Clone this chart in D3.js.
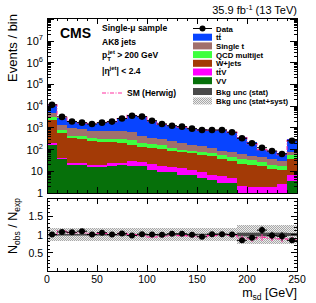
<!DOCTYPE html>
<html>
<head>
<meta charset="utf-8">
<script src="https://cdn.jsdelivr.net/npm/d3@7"></script>
<style>
  body { margin: 0; background: #fff; }
  svg { display: block; font-family: "Liberation Sans", Arial, sans-serif; }
</style>
</head>
<body>
<div id="chart"></div>
<script>
// bins of m_sd (GeV)
const binLow = [0, 10, 20, 30, 40, 50, 60, 70, 80, 90, 100, 110, 120, 130, 140, 150, 160, 170, 180, 190, 200, 210, 220, 230, 240];
const binWidth = 10;

// observed events per bin
const dataCounts = [11500, 3200, 1970, 1740, 1510, 1740, 1940, 2700, 3640, 3300, 2140, 1510, 1260, 1140, 920, 800, 800, 800, 630, 330, 195, 122, 86, 63, 256];

// backgrounds (stack order: bottom -> top)
const vv     = [163, 36, 19.5, 19, 16, 16, 18, 19, 18, 17, 12, 9.5, 9, 7, 6.5, 4.8, 4, 3, 3, 0.6, 0.6, 0.5, 0.5, 0.5, 3.5];
const ttv    = [32, 6, 3.5, 4, 3.5, 3.5, 5, 6, 12, 11, 9, 7.5, 6.5, 7, 5.5, 4.2, 3, 3, 2, 1.6, 1.2, 1.3, 1.3, 2.0, 3.5];
const wjets  = [2105, 523, 307, 287, 220, 210, 197, 175, 140, 107, 93, 88, 74, 66, 55, 49, 45, 32, 25, 20, 18, 16, 11, 9.5, 28];
const qcd    = [1000, 235, 110, 110, 90, 90, 90, 100, 100, 65, 76, 55, 35, 20, 23, 22, 18, 18, 15, 14, 12, 10, 7, 5, 20];
const singleT = [1400, 560, 510, 480, 390, 400, 410, 400, 350, 220, 150, 160, 125, 100, 80, 60, 50, 29, 30, 24, 20, 20, 16, 13, 25];
const ttbar  = [6800, 1640, 910, 700, 790, 940, 1200, 1920, 3130, 2850, 1800, 1210, 990, 920, 760, 710, 670, 705, 555, 330, 162, 61, 53, 36, 225];

// SM prediction with Herwig
const herwig = [11500, 3300, 1950, 1680, 1540, 1710, 1920, 2700, 3750, 3170, 1990, 1450, 1215, 1086, 884, 790, 766, 790, 617, 351, 188, 100, 80, 58, 265];

// ratio panel values
const ratioObs = [1.0, 1.07, 1.06, 1.09, 1.0, 1.05, 1.0, 1.03, 0.97, 1.01, 1.0, 0.99, 1.02, 1.02, 0.99, 0.94, 1.01, 1.01, 1.0, 0.84, 0.91, 1.12, 0.97, 0.95, 0.84];
const ratioHerwig = [1.0, 1.1, 1.05, 1.05, 1.02, 1.03, 1.0, 1.03, 1.0, 0.97, 0.93, 0.95, 0.98, 0.97, 0.95, 0.93, 0.97, 1.0, 0.98, 0.9, 0.88, 0.92, 0.9, 0.88, 0.87];
const ratioHerwigErr = [0.01, 0.03, 0.02, 0.02, 0.02, 0.02, 0.02, 0.02, 0.02, 0.02, 0.03, 0.03, 0.03, 0.03, 0.04, 0.04, 0.04, 0.04, 0.05, 0.07, 0.08, 0.09, 0.08, 0.09, 0.07];
const uncStat = [0.01, 0.015, 0.015, 0.015, 0.015, 0.015, 0.015, 0.015, 0.015, 0.015, 0.015, 0.02, 0.02, 0.02, 0.02, 0.02, 0.02, 0.02, 0.02, 0.05, 0.05, 0.05, 0.05, 0.05, 0.04];
const uncTotal = [0.17, 0.17, 0.17, 0.17, 0.17, 0.17, 0.17, 0.17, 0.17, 0.17, 0.18, 0.18, 0.18, 0.18, 0.18, 0.18, 0.18, 0.18, 0.18, 0.25, 0.25, 0.25, 0.25, 0.25, 0.25];

const xTicks = [0, 50, 100, 150, 200, 250];
const ratioTicks = [0.5, 1, 1.5];
const logTicks = [1, 10, 100, 1e3, 1e4, 1e5, 1e6, 1e7];

const series = [
  { key: 'vv', label: 'VV', color: '#06700a', values: vv },
  { key: 'ttv', label: 'ttV', color: '#ff00ff', values: ttv },
  { key: 'wjets', label: 'W+jets', color: '#a33a06', values: wjets },
  { key: 'qcd', label: 'QCD multijet', color: '#3dff3d', values: qcd },
  { key: 'st', label: 'Single t', color: '#a1706c', values: singleT },
  { key: 'tt', label: 'tt', color: '#0844ff', values: ttbar }
];

const W = 316, H = 303;
const left = 47, right = 297;
const top1 = 18, bot1 = 193;
const top2 = 198, bot2 = 271;

const svg = d3.select('#chart').append('svg')
  .attr('width', W).attr('height', H);

const defs = svg.append('defs');
const pat = defs.append('pattern').attr('id', 'hatch')
  .attr('patternUnits', 'userSpaceOnUse').attr('width', 2).attr('height', 2);
pat.append('rect').attr('width', 2).attr('height', 2).attr('fill', '#ececec');
pat.append('rect').attr('width', 1).attr('height', 1).attr('fill', '#a8a8a8');
pat.append('rect').attr('x', 1).attr('y', 1).attr('width', 1).attr('height', 1).attr('fill', '#a8a8a8');

defs.append('clipPath').attr('id', 'clip1').append('rect')
  .attr('x', left).attr('y', top1).attr('width', right - left).attr('height', bot1 - top1);
defs.append('clipPath').attr('id', 'clip2').append('rect')
  .attr('x', left).attr('y', top2).attr('width', right - left).attr('height', bot2 - top2);

const x = d3.scaleLinear().domain([0, 250]).range([left, right]);
const y = d3.scaleLog().domain([1, 1.15e8]).range([bot1, top1]);
const yr = d3.scaleLinear().domain([0, 2]).range([bot2, top2]);

// ---------- top panel: stacked histogram ----------
const rows = binLow.map((b, i) => {
  const r = { lo: b };
  series.forEach(s => { r[s.key] = s.values[i]; });
  return r;
});
const stack = d3.stack().keys(series.map(s => s.key))(rows);

const g1 = svg.append('g').attr('clip-path', 'url(#clip1)');
stack.forEach((layer, k) => {
  g1.append('g').selectAll('rect')
    .data(layer)
    .join('rect')
    .attr('x', d => x(d.data.lo))
    .attr('width', x(binWidth) - x(0) + 0.3)
    .attr('y', d => y(Math.max(d[1], 0.01)))
    .attr('height', d => y(Math.max(d[0], 0.01)) - y(Math.max(d[1], 0.01)))
    .attr('fill', series[k].color)
    .attr('shape-rendering', 'crispEdges');
});

// Herwig curve on top panel
const stepLine = (vals, sc) => {
  const pts = [];
  vals.forEach((v, i) => {
    pts.push([x(binLow[i]), sc(v)]);
    pts.push([x(binLow[i] + binWidth), sc(v)]);
  });
  return d3.line()(pts);
};
g1.append('path')
  .attr('d', stepLine(herwig, y))
  .attr('fill', 'none').attr('stroke', '#ff2fa0').attr('stroke-width', 1.1)
  .attr('stroke-dasharray', '4,1.5,1,1.5');

// data points on top panel
const dg = g1.append('g');
dataCounts.forEach((n, i) => {
  const cx = x(binLow[i] + binWidth / 2);
  const e = Math.sqrt(n);
  dg.append('line').attr('x1', x(binLow[i])).attr('x2', x(binLow[i] + binWidth))
    .attr('y1', y(n)).attr('y2', y(n)).attr('stroke', '#000').attr('stroke-width', 1);
  dg.append('line').attr('x1', cx).attr('x2', cx)
    .attr('y1', y(n + e)).attr('y2', y(Math.max(n - e, 1))).attr('stroke', '#000').attr('stroke-width', 1);
  dg.append('circle').attr('cx', cx).attr('cy', y(n)).attr('r', 3.3).attr('fill', '#000');
});

// ---------- ratio panel ----------
const g2 = svg.append('g').attr('clip-path', 'url(#clip2)');
g2.append('g').selectAll('rect').data(binLow).join('rect')
  .attr('x', d => x(d)).attr('width', x(binWidth) - x(0) + 0.3)
  .attr('y', (d, i) => yr(1 + uncTotal[i]))
  .attr('height', (d, i) => yr(1 - uncTotal[i]) - yr(1 + uncTotal[i]))
  .attr('fill', 'url(#hatch)').attr('shape-rendering', 'crispEdges');
g2.append('g').selectAll('rect').data(binLow).join('rect')
  .attr('x', d => x(d)).attr('width', x(binWidth) - x(0) + 0.3)
  .attr('y', (d, i) => yr(1 + uncStat[i]))
  .attr('height', (d, i) => Math.max(1.6, yr(1 - uncStat[i]) - yr(1 + uncStat[i])))
  .attr('fill', '#4a4a4a');

// Herwig ratio
g2.append('path')
  .attr('d', stepLine(ratioHerwig, yr))
  .attr('fill', 'none').attr('stroke', '#ff2fa0').attr('stroke-width', 1.1)
  .attr('stroke-dasharray', '4,1.5,1,1.5');
ratioHerwig.forEach((r, i) => {
  const cx = x(binLow[i] + binWidth / 2);
  g2.append('line').attr('x1', cx).attr('x2', cx)
    .attr('y1', yr(r + ratioHerwigErr[i])).attr('y2', yr(r - ratioHerwigErr[i]))
    .attr('stroke', '#ff2fa0').attr('stroke-width', 1);
});

// data ratio
ratioObs.forEach((r, i) => {
  const cx = x(binLow[i] + binWidth / 2);
  const e = r / Math.sqrt(dataCounts[i]);
  g2.append('line').attr('x1', x(binLow[i])).attr('x2', x(binLow[i] + binWidth))
    .attr('y1', yr(r)).attr('y2', yr(r)).attr('stroke', '#000').attr('stroke-width', 1);
  g2.append('line').attr('x1', cx).attr('x2', cx)
    .attr('y1', yr(r + e)).attr('y2', yr(r - e)).attr('stroke', '#000').attr('stroke-width', 1);
  g2.append('circle').attr('cx', cx).attr('cy', yr(r)).attr('r', 3).attr('fill', '#000');
});

// ---------- frames and ticks ----------
const ax = svg.append('g').attr('stroke', '#000').attr('stroke-width', 1).attr('shape-rendering', 'crispEdges');
[[top1, bot1], [top2, bot2]].forEach(([t, b]) => {
  ax.append('rect').attr('x', left).attr('y', t).attr('width', right - left).attr('height', b - t).attr('fill', 'none');
  // x ticks, inside, bottom and top
  for (let v = 0; v <= 250; v += 10) {
    const len = v % 50 === 0 ? 6 : 3;
    ax.append('line').attr('x1', x(v)).attr('x2', x(v)).attr('y1', b).attr('y2', b - len);
    ax.append('line').attr('x1', x(v)).attr('x2', x(v)).attr('y1', t).attr('y2', t + len);
  }
});

// log y ticks
for (let d = 0; d <= 8; d++) {
  for (let m = 1; m <= 9; m++) {
    const v = m * Math.pow(10, d);
    if (v > 1.15e8) continue;
    const len = m === 1 ? 7 : 3.5;
    ax.append('line').attr('x1', left).attr('x2', left + len).attr('y1', y(v)).attr('y2', y(v));
    ax.append('line').attr('x1', right).attr('x2', right - len).attr('y1', y(v)).attr('y2', y(v));
  }
}
// ratio y ticks
for (let k = 0; k <= 20; k++) {
  const v = k / 10;
  const len = k % 5 === 0 ? 6 : 3;
  ax.append('line').attr('x1', left).attr('x2', left + len).attr('y1', yr(v)).attr('y2', yr(v));
  ax.append('line').attr('x1', right).attr('x2', right - len).attr('y1', yr(v)).attr('y2', yr(v));
}

// ---------- labels ----------
const lab = svg.append('g').attr('fill', '#000');
logTicks.forEach(v => {
  const p = Math.round(Math.log10(v));
  const t = lab.append('text').attr('x', 43).attr('y', y(v) + 4)
    .attr('text-anchor', 'end').attr('font-size', 11);
  if (p === 0) t.text('1');
  else if (p === 1) t.text('10');
  else {
    t.append('tspan').text('10');
    t.append('tspan').attr('dy', -5).attr('font-size', 7.5).text(p);
  }
});
ratioTicks.forEach(v => {
  lab.append('text').attr('x', 43).attr('y', yr(v) + 4)
    .attr('text-anchor', 'end').attr('font-size', 10.5).text(v);
});
xTicks.forEach(v => {
  lab.append('text').attr('x', x(v)).attr('y', 283)
    .attr('text-anchor', 'middle').attr('font-size', 10.5).text(v);
});

// x title
const xt = lab.append('text').attr('x', right).attr('y', 297).attr('text-anchor', 'end').attr('font-size', 12.5);
xt.append('tspan').text('m');
xt.append('tspan').attr('dy', 3).attr('font-size', 8.5).text('sd');
xt.append('tspan').attr('dy', -3).text(' [GeV]');

// y titles
lab.append('text').attr('transform', `translate(17,${top1 - 4}) rotate(-90)`)
  .attr('text-anchor', 'end').attr('font-size', 13).text('Events / bin');
const yt2 = lab.append('text').attr('transform', `translate(17,${top2}) rotate(-90)`)
  .attr('text-anchor', 'end').attr('font-size', 12.5);
yt2.append('tspan').text('N');
yt2.append('tspan').attr('dy', 3).attr('font-size', 8.5).text('obs');
yt2.append('tspan').attr('dy', -3).text(' / N');
yt2.append('tspan').attr('dy', 3).attr('font-size', 8.5).text('exp');

// lumi label
const lumi = lab.append('text').attr('x', right).attr('y', 14).attr('text-anchor', 'end').attr('font-size', 11);
lumi.append('tspan').text('35.9 fb');
lumi.append('tspan').attr('dy', -4).attr('font-size', 7.5).text('-1');
lumi.append('tspan').attr('dy', 4).text(' (13 TeV)');

// CMS + selection text
lab.append('text').attr('x', 60).attr('y', 38).attr('font-size', 14).attr('font-weight', 'bold').text('CMS');
const sel = lab.append('g').attr('font-size', 8.5).attr('font-weight', 'bold');
sel.append('text').attr('x', 102).attr('y', 31).text('Single-\u03bc sample');
sel.append('text').attr('x', 102).attr('y', 45).text('AK8 jets');
const pt = sel.append('text').attr('x', 102).attr('y', 58);
pt.append('tspan').text('p');
pt.append('tspan').attr('dy', 2.5).attr('font-size', 6).text('T');
pt.append('tspan').attr('dx', -3).attr('dy', -6.5).attr('font-size', 6).text('jet');
pt.append('tspan').attr('dy', 4).text(' > 200 GeV');
const eta = sel.append('text').attr('x', 102).attr('y', 74);
eta.append('tspan').text('|\u03b7');
eta.append('tspan').attr('dy', -4).attr('font-size', 6).text('jet');
eta.append('tspan').attr('dy', 4).text('| < 2.4');

// Herwig legend entry
lab.append('line').attr('x1', 102).attr('x2', 122).attr('y1', 93).attr('y2', 93)
  .attr('stroke', '#ff2fa0').attr('stroke-width', 1.2).attr('stroke-dasharray', '4,1.5,1,1.5');
sel.append('text').attr('x', 127).attr('y', 96).text('SM (Herwig)');

// main legend
const leg = svg.append('g').attr('font-size', 7.8).attr('font-weight', 'bold');
const lx = 193, lw = 19, tx = 216;
const rowY = [28.5, 37.2, 45.9, 54.6, 63.3, 72, 80.7, 91.5, 101];
leg.append('line').attr('x1', lx).attr('x2', lx + lw).attr('y1', rowY[0]).attr('y2', rowY[0]).attr('stroke', '#000');
leg.append('circle').attr('cx', lx + lw / 2).attr('cy', rowY[0]).attr('r', 3).attr('fill', '#000');
leg.append('text').attr('x', tx).attr('y', rowY[0] + 3).text('Data');
const legOrder = ['tt', 'st', 'qcd', 'wjets', 'ttv', 'vv'];
legOrder.forEach((k, i) => {
  const s = series.find(d => d.key === k);
  const yy = rowY[i + 1];
  leg.append('rect').attr('x', lx).attr('y', yy - 3.5).attr('width', lw).attr('height', 7).attr('fill', s.color);
  const t = leg.append('text').attr('x', tx).attr('y', yy + 3).text(s.label);
  if (k === 'tt' || k === 'ttv') {
    // bar over the second t
    const n = t.node();
    const a = n.getStartPositionOfChar(1).x;
    const b = n.getEndPositionOfChar(1).x;
    leg.append('line').attr('x1', a + 0.3).attr('x2', b - 0.3)
      .attr('y1', yy - 3.2).attr('y2', yy - 3.2)
      .attr('stroke', '#000').attr('stroke-width', 0.7);
  }
});
leg.append('rect').attr('x', lx).attr('y', rowY[7] - 3.5).attr('width', lw).attr('height', 7).attr('fill', '#4a4a4a');
leg.append('text').attr('x', tx).attr('y', rowY[7] + 3).text('Bkg unc (stat)');
leg.append('rect').attr('x', lx).attr('y', rowY[8] - 3.5).attr('width', lw).attr('height', 7).attr('fill', 'url(#hatch)');
leg.append('text').attr('x', tx).attr('y', rowY[8] + 3).text('Bkg unc (stat+syst)');
</script>
</body>
</html>
